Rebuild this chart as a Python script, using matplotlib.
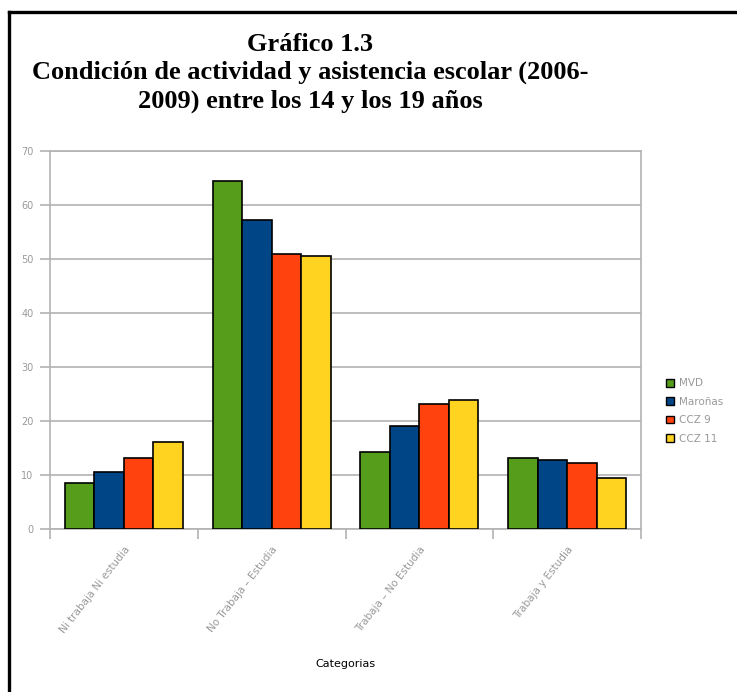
import matplotlib
matplotlib.use("Agg")
import matplotlib.pyplot as plt
import numpy as np
from matplotlib.lines import Line2D
from matplotlib.patches import Patch

categories = ["Ni trabaja Ni estudia", "No Trabaja – Estudia", "Trabaja – No Estudia", "Trabaja y Estudia"]
series_names = ["MVD", "Maroñas", "CCZ 9", "CCZ 11"]
values = {
    "MVD":     [8.6, 64.4, 14.2, 13.1],
    "Maroñas": [10.5, 57.3, 19.1, 12.8],
    "CCZ 9":   [13.1, 51.0, 23.1, 12.3],
    "CCZ 11":  [16.1, 50.6, 23.8, 9.4],
}
colors = ["#579D1C", "#004586", "#FF420E", "#FFD320"]
yticks = [0, 10, 20, 30, 40, 50, 60, 70]

fig = plt.figure(figsize=(7.37, 6.92), dpi=100)
ax = fig.add_axes([50/737, 1-529/692, (641-50)/737, (529-151)/692])

x = np.arange(len(categories))
w = 0.2
for i, name in enumerate(series_names):
    ax.bar(x + (i - 1.5) * w, values[name], width=w, color=colors[i],
           edgecolor="black", linewidth=1.2, zorder=3, label=name)

ax.set_xlim(-0.5, 3.5)
ax.set_ylim(0, 70)
ax.set_yticks(yticks)
ax.set_yticklabels([str(t) for t in yticks], fontsize=7, color="#999999",
                   family="DejaVu Sans")
ax.yaxis.grid(True, color="#b3b3b3", linewidth=1.2, zorder=0)
ax.tick_params(axis="y", length=7, width=1.2, color="#b3b3b3", pad=5)

ax.set_xticks(x)
ax.set_xticklabels(categories, rotation=52, ha="right", va="top",
                   rotation_mode="anchor", fontsize=7.5, color="#999999",
                   family="DejaVu Sans")
ax.tick_params(axis="x", length=0, pad=11)
ax.set_xticks(np.arange(-0.5, 4.0, 1.0), minor=True)
ax.tick_params(axis="x", which="minor", length=7, width=1.2, color="#b3b3b3")

for s in ax.spines.values():
    s.set_color("#b3b3b3")
    s.set_linewidth(1.2)

ax.set_xlabel("Categorias", fontsize=8, family="DejaVu Sans")
ax.xaxis.set_label_coords(0.5, (529-664)/378)
ax.xaxis.label.set_va("center")

fig.text(310/737, 1-73/692,
         "Gráfico 1.3\nCondición de actividad y asistencia escolar (2006-\n2009) entre los 14 y los 19 años",
         ha="center", va="center", fontsize=19, fontweight="bold",
         family="Liberation Serif", linespacing=1.27)

handles = [Patch(facecolor=colors[i], edgecolor="black", linewidth=1.0) for i in range(4)]
leg = fig.legend(handles, series_names, loc="center left",
                 bbox_to_anchor=(662/737, 1-411/692), frameon=False,
                 fontsize=7.5, handlelength=0.75, handleheight=0.75,
                 handletextpad=0.45, labelspacing=0.8, borderaxespad=0)
for t in leg.get_texts():
    t.set_color("#999999")
    t.set_family("DejaVu Sans")

# page border: left and top black lines
fig.add_artist(Line2D([8.5/737, 8.5/737], [0, 1-11.5/692], transform=fig.transFigure,
                      color="black", linewidth=2.4, solid_capstyle="projecting"))
fig.add_artist(Line2D([8.5/737, 1], [1-11.5/692, 1-11.5/692], transform=fig.transFigure,
                      color="black", linewidth=2.4, solid_capstyle="projecting"))

fig.savefig("out.png", dpi=100)
